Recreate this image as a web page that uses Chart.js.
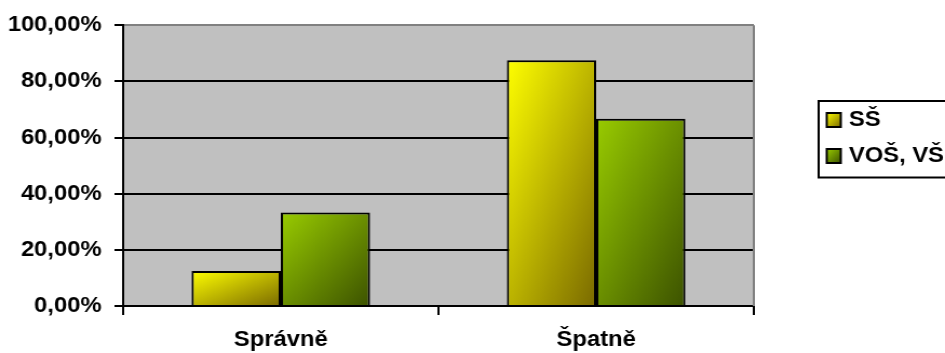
<!DOCTYPE html>
<html><head><meta charset="utf-8">
<script src="https://cdn.jsdelivr.net/npm/chart.js@4/dist/chart.umd.min.js"></script>
<style>
html,body{margin:0;padding:0;background:#fff;overflow:hidden;width:945px;height:353px;}
#wrap{position:absolute;left:0;top:0;width:875px;height:353px;transform:scaleX(1.08);transform-origin:0 0;}
canvas{display:block;}
</style></head><body>
<div id="wrap"><canvas id="c" width="875" height="353"></canvas></div>
<script>
const categories = ['Správně', 'Špatně'];
const seriesNames = ['SŠ', 'VOŠ, VŠ'];
const ssValues = [12.5, 87.5];
const vosValues = [33.33, 66.67];
const yTicks = [0, 20, 40, 60, 80, 100];
const yTickLabels = ['0,00%', '20,00%', '40,00%', '60,00%', '80,00%', '100,00%'];

const FONT = '"Liberation Sans", Arial, sans-serif';
const CAT_PCT = 0.566;
const seriesColors = [['#FFFF00', '#7A6A00'], ['#99CC00', '#3C5200']];

function diagGrad(c2d, l, t, r, b, c0, c1) {
  const w = r - l, h = b - t;
  const k = 2 * w * h / (w * w + h * h || 1);
  const g = c2d.createLinearGradient(l, t, l + h * k, t + w * k);
  g.addColorStop(0, c0); g.addColorStop(1, c1);
  return g;
}
function barBg(dsIndex) {
  const [c0, c1] = seriesColors[dsIndex];
  return (ctx) => {
    const chart = ctx.chart;
    if (!chart.chartArea || ctx.type !== 'data') return c0;
    const xs = chart.scales.x, ys = chart.scales.y;
    const catW = (xs.right - xs.left) / categories.length;
    const bw = catW * CAT_PCT / 2;
    const cx = xs.getPixelForValue(ctx.dataIndex);
    const l = cx - bw + dsIndex * bw, r = l + bw;
    const t = ys.getPixelForValue(ctx.raw), b = ys.getPixelForValue(0);
    return diagGrad(chart.ctx, l, t, r, b, c0, c1);
  };
}

const plotBg = {
  id: 'plotBg',
  beforeDraw(chart) {
    const {ctx, chartArea: a} = chart;
    ctx.save();
    ctx.fillStyle = '#C0C0C0';
    ctx.fillRect(a.left, a.top, a.right - a.left, a.bottom - a.top);
    ctx.restore();
  },
  beforeDatasetsDraw(chart) {
    const {ctx, chartArea: a} = chart;
    ctx.save();
    ctx.strokeStyle = '#808080'; ctx.lineWidth = 2;
    ctx.beginPath(); ctx.moveTo(a.right, a.top); ctx.lineTo(a.right, a.bottom); ctx.stroke();
    ctx.restore();
  }
};

const boxLegend = {
  id: 'boxLegend',
  afterDraw(chart) {
    const {ctx, chartArea: a} = chart;
    const x0 = a.right + 60, y0 = 101;
    ctx.save();
    ctx.lineWidth = 2; ctx.strokeStyle = '#000';
    ctx.strokeRect(x0, y0, 140, 76.5);
    ctx.font = 'bold 22px ' + FONT;
    ctx.textBaseline = 'middle';
    chart.data.datasets.forEach((ds, i) => {
      const cy = y0 + 18.5 + i * 36;
      const [c0, c1] = seriesColors[i];
      const sx = x0 + 7.5, sy = cy - 6.5;
      ctx.fillStyle = diagGrad(ctx, sx, sy, sx + 13, sy + 14, c0, c1);
      ctx.fillRect(sx, sy, 13, 14);
      ctx.lineWidth = 2; ctx.strokeRect(sx, sy, 13, 14);
      ctx.fillStyle = '#000';
      ctx.fillText(ds.label, x0 + 28, cy);
    });
    ctx.restore();
  }
};

new Chart(document.getElementById('c'), {
  type: 'bar',
  data: {
    labels: categories,
    datasets: [
      {label: seriesNames[0], data: ssValues, backgroundColor: barBg(0), borderColor: '#000', borderWidth: 2},
      {label: seriesNames[1], data: vosValues, backgroundColor: barBg(1), borderColor: '#000', borderWidth: 2}
    ]
  },
  options: {
    responsive: false,
    animation: false,
    events: [],
    layout: {padding: {top: 23, right: 177, bottom: 0, left: 0}},
    datasets: {bar: {categoryPercentage: CAT_PCT, barPercentage: 1}},
    plugins: {legend: {display: false}, tooltip: {enabled: false}},
    scales: {
      x: {
        afterFit(s) { s.height = 47; },
        grid: {display: true, drawOnChartArea: false, drawTicks: true, tickLength: 9, color: '#000', lineWidth: 2, offset: true},
        border: {display: true, color: '#000', width: 2},
        ticks: {color: '#000', padding: 12, font: {family: FONT, size: 22, weight: 'bold'}}
      },
      y: {
        min: 0, max: 100,
        afterFit(s) { s.width = 114; },
        afterBuildTicks(s) { s.ticks = yTicks.map(v => ({value: v})); },
        grid: {color: (c) => (c.tick && c.tick.value === 100 ? '#808080' : '#000'), tickColor: '#000', lineWidth: 2, tickLength: 8},
        border: {display: true, color: '#000', width: 2},
        ticks: {
          color: '#000', padding: 12,
          font: {family: FONT, size: 22, weight: 'bold'},
          callback: (v) => yTickLabels[yTicks.indexOf(v)]
        }
      }
    }
  },
  plugins: [plotBg, boxLegend]
});
</script>
</body></html>
